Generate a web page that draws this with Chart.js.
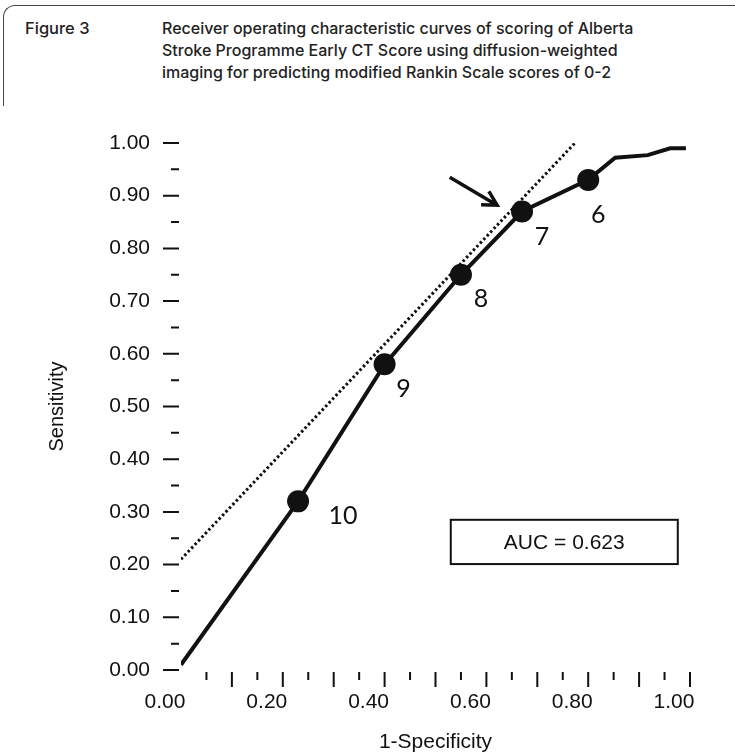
<!DOCTYPE html>
<html>
<head>
<meta charset="utf-8">
<script src="https://cdn.jsdelivr.net/npm/chart.js@4.4.1/dist/chart.umd.min.js"></script>
<style>
    html, body { margin: 0; padding: 0; background: #fff; }
    #wrap { position: relative; width: 735px; height: 756px; overflow: hidden; }
    #frame {
        position: absolute; left: 3px; top: 5px; width: 780px; height: 100px;
        border-top: 1.5px solid #444; border-left: 1.5px solid #444;
        border-top-left-radius: 12px;
    }
    .head {
        position: absolute; top: 17px; font-family: Inter, sans-serif; font-weight: 500;
        font-size: 16px; line-height: 22px; color: #222;
    }
    #figNo { left: 25px; font-size: 16.5px; }
    #figTitle { left: 162px; }
    #chart { position: absolute; left: 0; top: 0; }
</style>
</head>
<body>
<div id="wrap">
    <div id="frame"></div>
    <div class="head" id="figNo">Figure 3</div>
    <div class="head" id="figTitle">Receiver operating characteristic curves of scoring of Alberta<br>Stroke Programme Early CT Score using diffusion-weighted<br>imaging for predicting modified Rankin Scale scores of 0-2</div>
    <canvas id="chart" width="735" height="756"></canvas>
</div>
<script>
// ROC curve (1-specificity, sensitivity)
const fpr = [0.00, 0.23, 0.40, 0.55, 0.67, 0.80, 0.853, 0.917, 0.961, 0.992];
const tpr = [0.01, 0.32, 0.58, 0.75, 0.87, 0.93, 0.972, 0.977, 0.990, 0.990];
const cutoffLabels = ['', '10', '9', '8', '7', '6', '', '', '', ''];

// dotted tangent line
const tangentX = [0.00, 0.774];
const tangentY = [0.21, 1.00];

const xTicks = [0, 0.2, 0.4, 0.6, 0.8, 1.0];
const yTicks = [0, 0.1, 0.2, 0.3, 0.4, 0.5, 0.6, 0.7, 0.8, 0.9, 1.0];
const aucText = 'AUC = 0.623';

const tickFont = { family: 'Liberation Sans, Arial, sans-serif', size: 21 };
const ink = '#111';

// short dashes instead of axis lines, like the original
const tickMarks = {
    id: 'tickMarks',
    afterDraw(chart) {
        const { ctx, chartArea: a, scales: { x, y } } = chart;
        ctx.save();
        ctx.strokeStyle = ink;
        ctx.lineWidth = 2;
        ctx.beginPath();
        for (let i = 0; i < yTicks.length; i++) {
            const py = y.getPixelForValue(yTicks[i]);
            ctx.moveTo(a.left - 18, py); ctx.lineTo(a.left - 2, py);
            if (i < yTicks.length - 1) {
                const pm = y.getPixelForValue((yTicks[i] + yTicks[i + 1]) / 2);
                ctx.moveTo(a.left - 10, pm); ctx.lineTo(a.left - 2, pm);
            }
        }
        for (let k = 1; k <= 20; k++) {
            const px = x.getPixelForValue(k * 0.05);
            const len = k % 2 === 0 ? 15 : 8;
            ctx.moveTo(px, a.bottom + 2); ctx.lineTo(px, a.bottom + 2 + len);
        }
        ctx.stroke();
        ctx.restore();
    }
};

const notes = {
    id: 'notes',
    afterDatasetsDraw(chart) {
        const { ctx, scales: { x, y } } = chart;
        ctx.save();

        // cut-off numbers next to the markers
        const offs = [null, [45, 15], [19, 25], [20, 24], [20, 25], [10, 35]];
        ctx.fillStyle = ink;
        ctx.font = '25px Lato, sans-serif';
        ctx.textAlign = 'center';
        ctx.textBaseline = 'middle';
        cutoffLabels.forEach((t, i) => {
            if (!t) return;
            ctx.fillText(t, x.getPixelForValue(fpr[i]) + offs[i][0], y.getPixelForValue(tpr[i]) + offs[i][1]);
        });

        // arrow pointing at the cut-off of 7
        const x0 = x.getPixelForValue(0.528), y0 = y.getPixelForValue(0.935);
        const x1 = x.getPixelForValue(0.621), y1 = y.getPixelForValue(0.882);
        const ang = Math.atan2(y1 - y0, x1 - x0);
        ctx.strokeStyle = ink;
        ctx.lineWidth = 3.5;
        ctx.beginPath();
        ctx.moveTo(x0, y0); ctx.lineTo(x1, y1);
        ctx.moveTo(x1 - 16 * Math.cos(ang - 0.5), y1 - 16 * Math.sin(ang - 0.5));
        ctx.lineTo(x1, y1);
        ctx.lineTo(x1 - 16 * Math.cos(ang + 0.5), y1 - 16 * Math.sin(ang + 0.5));
        ctx.stroke();

        // AUC box
        const bx0 = x.getPixelForValue(0.53), bx1 = x.getPixelForValue(0.976);
        const by0 = y.getPixelForValue(0.285), by1 = y.getPixelForValue(0.201);
        ctx.lineWidth = 2;
        ctx.strokeRect(bx0, by0, bx1 - bx0, by1 - by0);
        ctx.font = '21px Liberation Sans, Arial, sans-serif';
        ctx.fillText(aucText, (bx0 + bx1) / 2, (by0 + by1) / 2 + 1);
        ctx.restore();
    }
};

new Chart(document.getElementById('chart'), {
    type: 'scatter',
    data: {
        datasets: [
            {
                label: 'ROC',
                data: fpr.map((v, i) => ({ x: v, y: tpr[i] })),
                showLine: true,
                borderColor: ink,
                borderWidth: 4,
                pointRadius: c => cutoffLabels[c.dataIndex] ? 11 : 0,
                pointBackgroundColor: ink,
                pointBorderWidth: 0
            },
            {
                label: 'Tangent',
                data: tangentX.map((v, i) => ({ x: v, y: tangentY[i] })),
                showLine: true,
                borderColor: ink,
                borderWidth: 3,
                borderDash: [2.5, 2.5],
                pointRadius: 0
            }
        ]
    },
    options: {
        responsive: false,
        animation: false,
        devicePixelRatio: 1,
        layout: { padding: { left: 0, right: 45, top: 143, bottom: 0 } },
        plugins: { legend: { display: false }, tooltip: { enabled: false } },
        scales: {
            x: {
                type: 'linear', min: 0, max: 1,
                afterFit: s => { s.height = 86; },
                afterBuildTicks: s => { s.ticks = xTicks.map(v => ({ value: v })); },
                grid: { display: false, drawTicks: false },
                border: { display: false },
                ticks: { font: tickFont, color: ink, padding: 20, labelOffset: -16, callback: v => v.toFixed(2) },
                title: { display: true, text: '1-Specificity', font: tickFont, color: ink, padding: { top: 0, bottom: 1 } }
            },
            y: {
                type: 'linear', min: 0, max: 1,
                afterFit: s => { s.width = 181; },
                afterBuildTicks: s => { s.ticks = yTicks.map(v => ({ value: v })); },
                grid: { display: false, drawTicks: false },
                border: { display: false },
                ticks: { font: tickFont, color: ink, padding: 31, callback: v => v.toFixed(2) },
                title: { display: true, text: 'Sensitivity', font: { family: tickFont.family, size: 20 }, color: ink, padding: { top: 45, bottom: 0 } }
            }
        }
    },
    plugins: [tickMarks, notes]
});
</script>
</body>
</html>
